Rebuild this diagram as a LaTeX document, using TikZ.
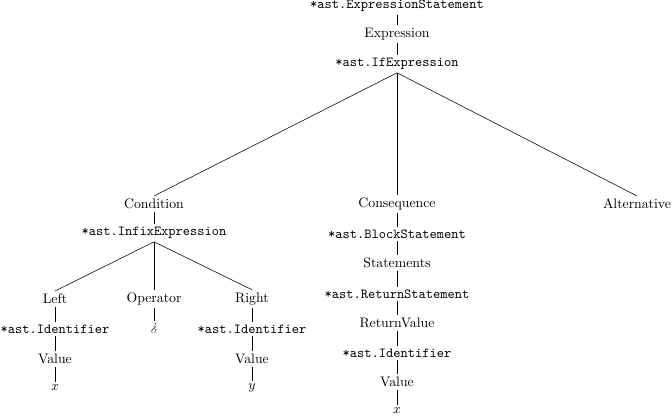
\documentclass[tikz,border=0pt]{standalone}
\usepackage{fontspec}
\tikzset{
    ast/.style={font=\ttfamily, inner sep=2pt},
    fld/.style={inner sep=2pt},
    edge/.style={thin}
}
\begin{document}
\begin{tikzpicture}[x=0.725pt, y=-0.725pt]
    \useasboundingbox (0, 0) rectangle (672, 418);
\node[ast] (stmt) at (397, 6) {*ast.ExpressionStatement};
\node[fld] (expr) at (397, 34) {Expression};
\node[ast] (ifx) at (397, 64) {*ast.IfExpression};
\node[fld] (cond) at (154, 204) {Condition};
\node[fld] (cons) at (397, 204) {Consequence};
\node[fld] (alt) at (637, 204) {Alternative};
% condition branch
\node[ast] (infix) at (154, 233) {*ast.InfixExpression};
\node[fld] (left) at (55, 299) {Left};
\node[fld] (op) at (154, 299) {Operator};
\node[fld] (right) at (252, 299) {Right};
\node[ast] (lid) at (55, 329) {*ast.Identifier};
\node[fld] (opv) at (154, 329) {\itshape ¿};
\node[ast] (rid) at (252, 329) {*ast.Identifier};
\node[fld] (lval) at (55, 359) {Value};
\node[fld] (rval) at (252, 359) {Value};
\node[fld] (lx) at (55, 388) {$x$};
\node[fld] (ry) at (252, 388) {$y$};
% consequence branch
\node[ast] (block) at (397, 234) {*ast.BlockStatement};
\node[fld] (stmts) at (397, 263) {Statements};
\node[ast] (ret) at (397, 294) {*ast.ReturnStatement};
\node[fld] (retv) at (397, 323) {ReturnValue};
\node[ast] (cid) at (397, 353) {*ast.Identifier};
\node[fld] (cval) at (397, 382) {Value};
\node[fld] (cx) at (397, 411) {$x$};
\draw[edge] (stmt.south) -- (expr.north);
\draw[edge] (expr.south) -- (ifx.north);
\foreach \c in {cond, cons, alt}
    \draw[edge] (ifx.south) -- (\c.north);
\draw[edge] (cond.south) -- (infix.north);
\foreach \c in {left, op, right}
    \draw[edge] (infix.south) -- (\c.north);
\draw[edge] (left.south) -- (lid.north);
\draw[edge] (lid.south) -- (lval.north);
\draw[edge] (lval.south) -- (lx.north);
\draw[edge] (op.south) -- (opv.north);
\draw[edge] (right.south) -- (rid.north);
\draw[edge] (rid.south) -- (rval.north);
\draw[edge] (rval.south) -- (ry.north);
\draw[edge] (cons.south) -- (block.north);
\draw[edge] (block.south) -- (stmts.north);
\draw[edge] (stmts.south) -- (ret.north);
\draw[edge] (ret.south) -- (retv.north);
\draw[edge] (retv.south) -- (cid.north);
\draw[edge] (cid.south) -- (cval.north);
\draw[edge] (cval.south) -- (cx.north);
\end{tikzpicture}
\end{document}
